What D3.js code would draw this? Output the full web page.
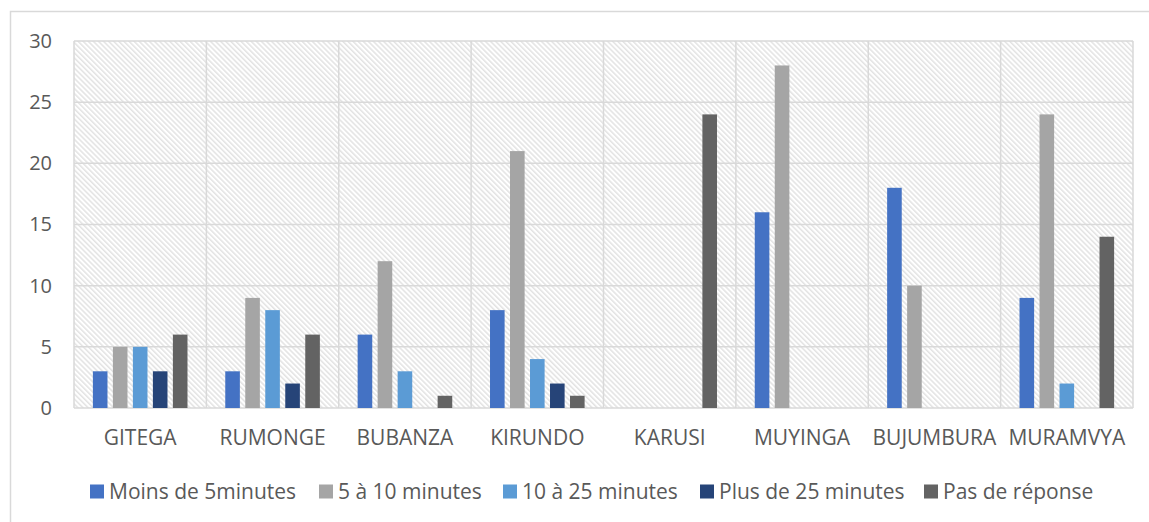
<!DOCTYPE html>
<html><head><meta charset="utf-8">
<script src="https://cdn.jsdelivr.net/npm/d3@7/dist/d3.min.js"></script>
<style>body{margin:0;background:#fff}svg{display:block}</style>
</head><body>
<svg id="c" width="1149" height="522"></svg>
<script>
const categories = ["GITEGA","RUMONGE","BUBANZA","KIRUNDO","KARUSI","MUYINGA","BUJUMBURA","MURAMVYA"];
const seriesNames = ["Moins de 5minutes","5 à 10 minutes","10 à 25 minutes","Plus de 25 minutes","Pas de réponse"];
const moins5 = [3,3,6,8,0,16,18,9];
const de5a10 = [5,9,12,21,0,28,10,24];
const de10a25 = [5,8,3,4,0,0,0,2];
const plus25 = [3,2,0,2,0,0,0,0];
const pasReponse = [6,6,1,1,24,0,0,14];
const yTicks = [0,5,10,15,20,25,30];
const colors = ["#4472C4","#A5A5A5","#5B9BD5","#264478","#636363"];
const series = [moins5, de5a10, de10a25, plus25, pasReponse];

const svg = d3.select("#c");
const font = "'Open Sans', sans-serif";
const defs = svg.append("defs");
const pat = defs.append("pattern").attr("id","hatch").attr("patternUnits","userSpaceOnUse")
  .attr("width",3.6).attr("height",3.6).attr("patternTransform","rotate(-45)");
pat.append("rect").attr("width",3.6).attr("height",3.6).attr("fill","#fff");
pat.append("line").attr("x1",0.8).attr("y1",0).attr("x2",0.8).attr("y2",3.6)
  .attr("stroke","#dedede").attr("stroke-width",1.3);

// outer border
svg.append("rect").attr("x",10.5).attr("y",11.5).attr("width",1160).attr("height",530)
  .attr("fill","none").attr("stroke","#d9d9d9").attr("stroke-width",1.5);

const L=74, R=1133, T=41, B=408;
const x = d3.scaleBand().domain(categories).range([L,R]).padding(0);
const y = d3.scaleLinear().domain([0,30]).range([B,T]);
const xs = d3.scaleBand().domain(d3.range(5)).range([0,100]).paddingInner(0.27).paddingOuter(0.135);

svg.append("rect").attr("x",L).attr("y",T).attr("width",R-L).attr("height",B-T).attr("fill","url(#hatch)");

// horizontal gridlines
svg.append("g").selectAll("line").data(yTicks).join("line")
  .attr("x1",L).attr("x2",R).attr("y1",d=>y(d)).attr("y2",d=>y(d))
  .attr("stroke","#d9d9d9").attr("stroke-width",1.5);
// vertical gridlines
const bounds = categories.map(c=>x(c)).concat([R]);
svg.append("g").selectAll("line").data(bounds).join("line")
  .attr("x1",d=>d).attr("x2",d=>d).attr("y1",T).attr("y2",B)
  .attr("stroke","#d9d9d9").attr("stroke-width",1.5);

// bars
series.forEach((vals,si)=>{
  svg.append("g").selectAll("rect").data(vals).join("rect")
    .attr("x",(d,i)=>x(categories[i]) + x.bandwidth()/2 - 50 + xs(si))
    .attr("width",xs.bandwidth())
    .attr("y",d=>y(d)).attr("height",d=>B-y(d))
    .attr("fill",colors[si]);
});

// y axis labels
const yAxis = d3.axisLeft(y).tickValues(yTicks).tickSize(0).tickPadding(22);
const ya = svg.append("g").attr("transform",`translate(${L},0)`).call(yAxis);
ya.select(".domain").remove();
ya.selectAll("text").attr("font-family",font).attr("font-size",20).attr("fill","#595959");

// x axis labels
const xAxis = d3.axisBottom(x).tickSize(0).tickPadding(22);
const xa = svg.append("g").attr("transform",`translate(0,${B})`).call(xAxis);
xa.select(".domain").remove();
xa.selectAll("text").attr("font-family",font).attr("font-size",21).attr("fill","#595959");

// legend
const legX = [90,319,503,700,924];
const lg = svg.append("g").selectAll("g").data(seriesNames).join("g")
  .attr("transform",(d,i)=>`translate(${legX[i]},491.5)`);
lg.append("rect").attr("x",0).attr("y",-7).attr("width",14).attr("height",14).attr("fill",(d,i)=>colors[i]);
lg.append("text").attr("x",19).attr("y",0).attr("dy","0.35em").text(d=>d)
  .attr("font-family",font).attr("font-size",21).attr("fill","#595959");
</script>
</body></html>
